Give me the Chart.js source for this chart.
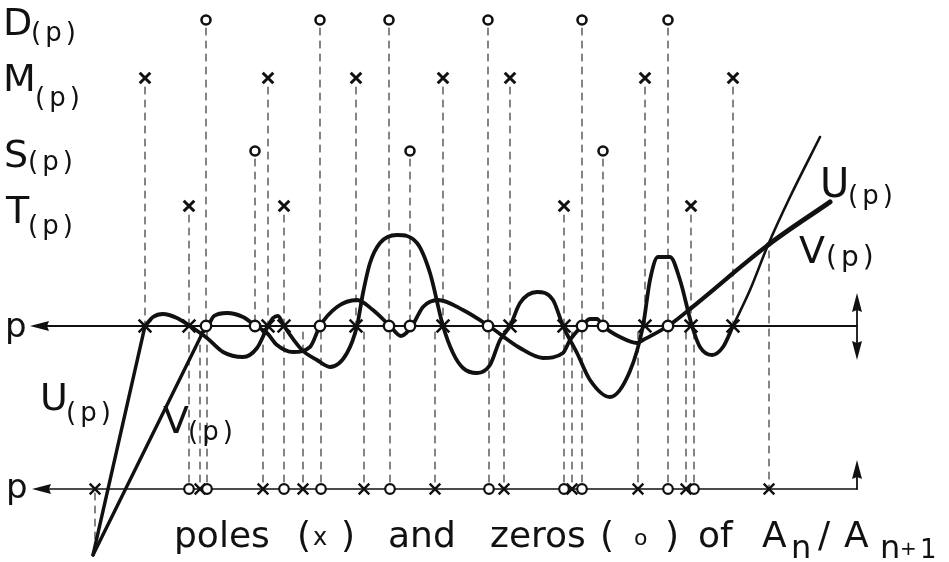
<!DOCTYPE html>
<html>
<head>
<meta charset="utf-8">
<script src="https://cdn.jsdelivr.net/npm/chart.js@4.4.0/dist/chart.umd.min.js"></script>
<style>
  body { margin: 0; background: #fff; }
  #wrap { width: 949px; height: 562px; position: relative; }
</style>
</head>
<body>
<div id="wrap"><canvas id="poleChart"></canvas></div>
<script>
// poles (x) and zeros (o) along p, for each function
const dZeros = [206, 320, 389, 488, 582, 668];
const mPoles = [145, 268, 356, 443, 510, 645, 733];
const sZeros = [255, 410, 603];
const tPoles = [189, 284, 564, 691];
// poles and zeros of An / An+1 (lower axis)
const quotPoles = [95, 200, 263, 303, 364, 435, 504, 572, 638, 686, 769];
const quotZeros = [189, 207, 284, 321, 390, 489, 564, 582, 668, 694];

// row levels
const levelD = 306, levelM = 248, levelS = 175, levelT = 120;
const levelAxis = 0, levelQuot = -163;

// U(p)
const uLineP = [93, 145];
const uLineVal = [-229, 0];
const uP   = [145, 153, 163, 177, 190, 207, 223, 243, 257, 268, 273, 278, 284, 302, 317, 330, 347, 357, 363, 370, 380, 397, 417, 430, 443, 453, 463, 477, 490, 500, 510, 520, 537, 553, 563, 577, 590, 610, 630, 643, 650, 658, 670, 680, 692, 700, 712, 723, 733, 750, 768, 790, 820];
const uVal = [0, 9, 12, 8, 0, -12, -26, -31, -22, 0, 8, 10, 0, -24, -34, -41, -27, 0, 33, 63, 83, 91, 83, 53, 0, -27, -42, -47, -39, -14, 0, 23, 34, 26, 0, -27, -54, -71, -45, 0, 46, 69, 69, 46, 0, -21, -29, -21, 0, 36, 81, 129, 189];

// V(p)
const vLineP = [93, 203];
const vLineVal = [-229, -6];
const vP   = [203, 208, 214, 227, 243, 256, 267, 277, 293, 310, 320, 337, 357, 373, 390, 401, 412, 423, 438, 463, 489, 520, 543, 563, 570, 582, 590, 597, 603, 620, 637, 643, 668, 690, 768, 830];
const vVal = [-6, 0, 10, 13, 9, 0, -7, -19, -26, -21, 0, 19, 26, 16, 0, -10, 0, 19, 26, 16, 0, -22, -32, -27, -14, 0, 7, 7, 0, -11, -17, -14, 0, 17, 81, 124];

// points where U and V meet away from the axes
const uvMeet = [{ x: 93, y: -229 }, { x: 769, y: 81 }];

const ink = '#111';

function pts(xs, ys) {
  return xs.map((x, i) => ({ x: x, y: ys[i] }));
}
function at(xs, level) {
  return xs.map(x => ({ x: x, y: level }));
}

// dashed guide lines
let guides = [];
function addGuide(x, a, b) {
  guides.push({ x: x, y: a }, { x: x, y: b }, { x: x, y: null });
}
dZeros.forEach(x => addGuide(x, levelD - 8, levelAxis));
mPoles.forEach(x => addGuide(x, levelM - 9, levelAxis));
sZeros.forEach(x => addGuide(x, levelS - 8, levelAxis));
tPoles.forEach(x => addGuide(x, levelT - 9, levelAxis));
quotPoles.concat(quotZeros).forEach(x => {
  let meet = uvMeet.find(m => Math.abs(m.x - x) < 5);
  if (meet && meet.y > levelAxis) addGuide(x, meet.y - 6, levelQuot);
  else if (meet) addGuide(x, levelQuot - 4, meet.y + 14);
  else addGuide(x, levelAxis - 6, levelQuot);
});

// arrow head used as point style
const arrowImg = document.createElement('canvas');
arrowImg.width = 12;
arrowImg.height = 20;
(function () {
  const c = arrowImg.getContext('2d');
  c.fillStyle = ink;
  c.beginPath();
  c.moveTo(6, 0);
  c.lineTo(11, 19);
  c.lineTo(6, 17);
  c.lineTo(1, 19);
  c.closePath();
  c.fill();
})();

const lineBase = { showLine: true, pointRadius: 0, borderColor: ink, fill: false };

const labelPieces = [
  ['D', 3, 35, 38], ['(p)', 31, 41, 26, 4],
  ['M', 3, 91, 38], ['(p)', 35, 106, 26, 4],
  ['S', 4, 167, 38], ['(p)', 28, 170, 26, 4],
  ['T', 6, 223, 38], ['(p)', 28, 234, 26, 4],
  ['p', 5, 337, 34], ['p', 6, 498, 34],
  ['U', 40, 410, 38], ['(p)', 66, 421, 26, 4],
  ['V', 163, 433, 38], ['(p)', 188, 440, 26, 4],
  ['U', 820, 197, 40], ['(p)', 848, 204, 26, 4],
  ['V', 799, 263, 38], ['(p)', 826, 266, 28, 4],
  ['poles', 174, 547, 36], ['(', 297, 547, 36], ['x', 313, 545, 24], [')', 341, 547, 36],
  ['and', 388, 547, 36], ['zeros', 490, 547, 36], ['(', 600, 547, 36], ['o', 634, 545, 22], [')', 665, 547, 36],
  ['of', 698, 547, 36], ['A', 762, 547, 36], ['n', 791, 558, 32], ['/', 818, 547, 36],
  ['A', 844, 547, 36], ['n', 880, 558, 32], ['+', 900, 555, 20], ['1', 920, 558, 26]
];

const labelPlugin = {
  id: 'labels',
  afterDraw(chart) {
    const ctx = chart.ctx;
    ctx.save();
    ctx.fillStyle = ink;
    ctx.textBaseline = 'alphabetic';
    labelPieces.forEach(p => {
      ctx.font = p[3] + 'px "DejaVu Sans"';
      ctx.letterSpacing = (p[4] || 0) + 'px';
      ctx.fillText(p[0], p[1], p[2]);
    });
    ctx.restore();
  }
};

const myChart = new Chart(document.getElementById('poleChart'), {
  type: 'scatter',
  data: {
    datasets: [
      // markers on top
      { data: at(dZeros, levelD).concat(at(sZeros, levelS)), pointStyle: 'circle', pointRadius: 4.5,
        pointBorderWidth: 2.6, pointBorderColor: ink, pointBackgroundColor: '#fff', order: 0 },
      { data: at(mPoles, levelM).concat(at(tPoles, levelT)), pointStyle: 'crossRot', pointRadius: 7.5,
        pointBorderWidth: 3, pointBorderColor: ink, order: 0 },
      { data: at(mPoles.concat(tPoles), levelAxis), pointStyle: 'crossRot', pointRadius: 9,
        pointBorderWidth: 2.6, pointBorderColor: ink, order: 0 },
      { data: at(dZeros.concat(sZeros), levelAxis), pointStyle: 'circle', pointRadius: 5.2,
        pointBorderWidth: 2.4, pointBorderColor: ink, pointBackgroundColor: '#fff', order: 0 },
      { data: at(quotPoles, levelQuot), pointStyle: 'crossRot', pointRadius: 7.5,
        pointBorderWidth: 2.4, pointBorderColor: ink, order: 0 },
      { data: at(quotZeros, levelQuot), pointStyle: 'circle', pointRadius: 4.8,
        pointBorderWidth: 2.2, pointBorderColor: ink, pointBackgroundColor: '#fff', order: 0 },
      // arrow heads
      { data: [{ x: 40, y: levelAxis }, { x: 42, y: levelQuot }, { x: 857, y: 23 }, { x: 857, y: -24 }, { x: 857, y: -144 }],
        pointStyle: arrowImg, pointRadius: 6, pointRotation: [-90, -90, 0, 180, 0], order: 0 },
      // U and V
      Object.assign({ data: pts(uLineP, uLineVal), borderWidth: 3.4, order: 1 }, lineBase),
      Object.assign({ data: pts(uP, uVal), borderWidth: 3.8, cubicInterpolationMode: 'monotone', order: 1,
        segment: { borderWidth: c => c.p0.parsed.x >= 733 ? 2.6 : 3.8 } }, lineBase),
      Object.assign({ data: pts(vLineP, vLineVal), borderWidth: 3.4, order: 1 }, lineBase),
      Object.assign({ data: pts(vP, vVal), borderWidth: 3.8, cubicInterpolationMode: 'monotone', order: 1,
        segment: { borderWidth: c => c.p0.parsed.x >= 768 ? 5 : (c.p0.parsed.x >= 690 ? 4.2 : 3.8) } }, lineBase),
      // axes
      Object.assign({ data: [{ x: 45, y: levelAxis }, { x: 857, y: levelAxis }], borderWidth: 2, order: 2 }, lineBase),
      Object.assign({ data: [{ x: 45, y: levelQuot }, { x: 857, y: levelQuot }], borderWidth: 1.6, order: 2 }, lineBase),
      Object.assign({ data: [{ x: 857, y: 28 }, { x: 857, y: -28 }], borderWidth: 1.8, order: 2 }, lineBase),
      Object.assign({ data: [{ x: 857, y: levelQuot }, { x: 857, y: -140 }], borderWidth: 1.8, order: 2 }, lineBase),
      // dashed guides
      Object.assign({ data: guides, borderWidth: 1.1, borderDash: [7, 6], spanGaps: false, order: 3 }, lineBase, { borderColor: '#222' })
    ]
  },
  options: {
    responsive: true,
    maintainAspectRatio: false,
    animation: false,
    events: [],
    layout: { padding: 0, autoPadding: false },
    plugins: { legend: { display: false }, tooltip: { enabled: false } },
    elements: { line: { borderCapStyle: 'round', borderJoinStyle: 'round' } },
    scales: {
      x: { type: 'linear', min: 0, max: 949, display: false },
      y: { type: 'linear', min: -236, max: 326, display: false }
    }
  },
  plugins: [labelPlugin]
});
</script>
</body>
</html>
